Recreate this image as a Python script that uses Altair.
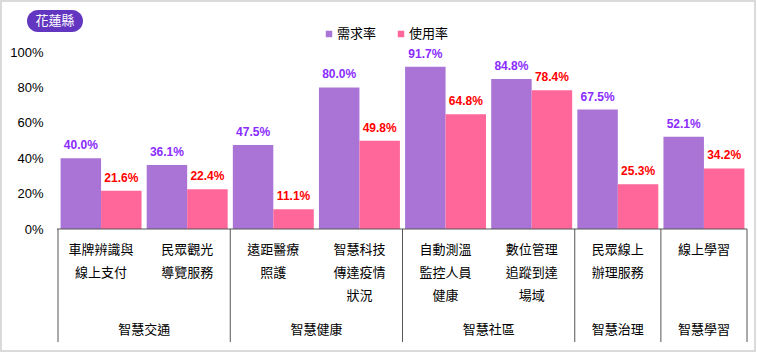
import altair as alt
import pandas as pd

categories = ["車牌辨識與\n線上支付", "民眾觀光\n導覽服務", "遠距醫療\n照護",
              "智慧科技\n傳達疫情\n狀況", "自動測溫\n監控人員\n健康", "數位管理\n追蹤到達\n場域",
              "民眾線上\n辦理服務", "線上學習"]
groups = ["智慧交通", "智慧健康", "智慧社區", "智慧治理", "智慧學習"]
group_sizes = [2, 2, 2, 1, 1]
demand = [40.0, 36.1, 47.5, 80.0, 91.7, 84.8, 67.5, 52.1]
usage = [21.6, 22.4, 11.1, 49.8, 64.8, 78.4, 25.3, 34.2]
series = ["需求率", "使用率"]
y_ticks = [0, 20, 40, 60, 80, 100]
badge_title = "花蓮縣"

BAR_COLORS = ["#A974D6", "#FF6699"]
LABEL_COLORS = ["#8A2BFF", "#FF0000"]
CJK = "Noto Sans CJK TC"
LAT = "Liberation Sans"

rows = []
for i, c in enumerate(categories):
    for side, vals in enumerate([demand, usage]):
        rows.append({"idx": i, "cat": c, "series": series[side], "side": side, "value": vals[i]})
df = pd.DataFrame(rows)

cat_df = pd.DataFrame({"idx": list(range(len(categories))), "cat": categories})
ends = pd.Series(group_sizes).cumsum()
grp_df = pd.DataFrame({"group": groups, "start": (ends - pd.Series(group_sizes)).tolist(), "end": ends.tolist()})
bnd_df = pd.DataFrame({"b": [0] + ends.tolist()})

xscale = alt.Scale(domain=[0, len(categories)], nice=False, zero=False)
yscale = alt.Scale(domain=[0, 100], nice=False)
yaxis = alt.Axis(values=y_ticks, labelExpr="datum.value + '%'", ticks=False,
                 domain=False, grid=False, labelPadding=15, labelFontSize=13,
                 labelColor="#000000", labelFont=LAT, labelOverlap=False, title=None)

base = alt.Chart(df).transform_calculate(
    x0="datum.idx + 0.03 + datum.side * 0.47",
).transform_calculate(
    x1="datum.x0 + 0.47", xc="datum.x0 + 0.235",
    lbl="format(datum.value, '.1f') + '%'"
)

bars = base.mark_bar().encode(
    x=alt.X("x0:Q", scale=xscale, axis=None),
    x2="x1:Q",
    y=alt.Y("value:Q", scale=yscale, title=None, axis=yaxis),
    y2=alt.datum(0),
    color=alt.Color("series:N", scale=alt.Scale(domain=series, range=BAR_COLORS), legend=None),
)

vlabels = base.mark_text(dy=-6, baseline="bottom", fontWeight="bold", fontSize=12, font=LAT).encode(
    x=alt.X("xc:Q", scale=xscale, axis=None),
    y=alt.Y("value:Q", scale=yscale, title=None, axis=yaxis),
    text="lbl:N",
    color=alt.Color("series:N", scale=alt.Scale(domain=series, range=LABEL_COLORS), legend=None),
)

axis_line = alt.Chart(alt.Data(values=[{}])).mark_rule(color="#555555", strokeWidth=1).encode(
    x=alt.value(-1), x2=alt.value(689), y=alt.value(177)
)

seps = alt.Chart(bnd_df).mark_rule(color="#555555", strokeWidth=1).encode(
    x=alt.X("b:Q", scale=xscale, axis=None), y=alt.value(177), y2=alt.value(290)
)

cat_labels = alt.Chart(cat_df).transform_calculate(xm="datum.idx + 0.5").mark_text(
    lineBreak="\n", lineHeight=23, baseline="top", fontSize=13, font=CJK, color="#000000"
).encode(x=alt.X("xm:Q", scale=xscale, axis=None), y=alt.value(192), text="cat:N")

grp_labels = alt.Chart(grp_df).transform_calculate(xm="(datum.start + datum.end) / 2").mark_text(
    baseline="middle", fontSize=13, font=CJK, color="#000000"
).encode(x=alt.X("xm:Q", scale=xscale, axis=None), y=alt.value(278), text="group:N")

one = alt.Data(values=[{}])
frame = alt.Chart(one).mark_rect(filled=False, stroke="#DADADA", strokeWidth=2).encode(
    x=alt.value(-57), x2=alt.value(697), y=alt.value(-51), y2=alt.value(299)
)
badge = alt.Chart(one).mark_rect(color="#6236C0", cornerRadius=11).encode(
    x=alt.value(-31), x2=alt.value(25), y=alt.value(-42), y2=alt.value(-20)
)
badge_text = alt.Chart(one).mark_text(color="white", fontSize=13, font=CJK, baseline="middle").encode(
    x=alt.value(-3), y=alt.value(-31), text=alt.value(badge_title)
)
leg = []
for k, (sx, tx) in enumerate([(271, 279), (343, 351)]):
    leg.append(alt.Chart(one).mark_square(size=42, color=BAR_COLORS[k], opacity=1).encode(
        x=alt.value(sx), y=alt.value(-18)))
    leg.append(alt.Chart(one).mark_text(align="left", baseline="middle", fontSize=13, font=CJK,
                                        color="#000000").encode(
        x=alt.value(tx), y=alt.value(-18), text=alt.value(series[k])))

chart = alt.layer(frame, bars, vlabels, axis_line, seps, cat_labels, grp_labels, badge, badge_text, *leg).resolve_scale(
    color="independent"
).properties(
    width=689, height=177,
    padding={"left": 58, "top": 52, "right": 10, "bottom": 123},
    autosize=alt.AutoSizeParams(type="none"),
    background="white",
).configure_view(stroke=None)

chart.save("out.html", embed_options={"renderer": "svg", "actions": False})
